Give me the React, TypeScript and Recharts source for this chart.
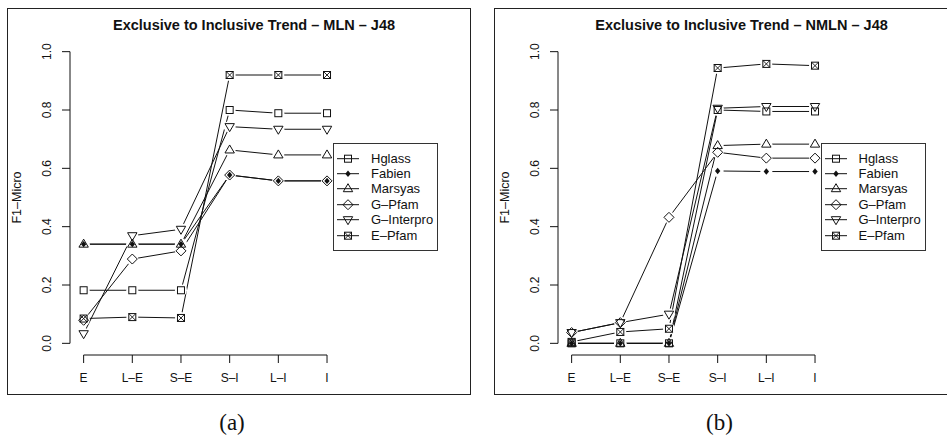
import { LineChart, Line, XAxis, YAxis, ReferenceLine, Legend } from 'recharts';

const categories = ['E', 'L–E', 'S–E', 'S–I', 'L–I', 'I'];
const seriesNames = ['Hglass', 'Fabien', 'Marsyas', 'G–Pfam', 'G–Interpro', 'E–Pfam'];
const yTicks = [0, 0.2, 0.4, 0.6, 0.8, 1.0];
const xTicks = [0, 1, 2, 3, 4, 5];

// MLN panel (a)
const mlnHglass = [0.182, 0.182, 0.182, 0.8, 0.789, 0.789];
const mlnFabien = [0.34, 0.34, 0.34, 0.577, 0.557, 0.557];
const mlnMarsyas = [0.34, 0.34, 0.34, 0.663, 0.646, 0.646];
const mlnGPfam = [0.079, 0.289, 0.317, 0.577, 0.557, 0.557];
const mlnGInterpro = [0.033, 0.369, 0.391, 0.743, 0.734, 0.734];
const mlnEPfam = [0.085, 0.09, 0.087, 0.92, 0.92, 0.92];

// NMLN panel (b)
const nmlnHglass = [0, 0, 0, 0.8, 0.795, 0.795];
const nmlnFabien = [0, 0, 0, 0.591, 0.589, 0.589];
const nmlnMarsyas = [0, 0, 0, 0.678, 0.683, 0.683];
const nmlnGPfam = [0.037, 0.071, 0.432, 0.655, 0.635, 0.635];
const nmlnGInterpro = [0.037, 0.071, 0.1, 0.806, 0.812, 0.812];
const nmlnEPfam = [0.005, 0.039, 0.05, 0.944, 0.958, 0.952];

type Shape = 'square' | 'dot' | 'triUp' | 'diamond' | 'triDown' | 'boxX';
const shapes: Shape[] = ['square', 'dot', 'triUp', 'diamond', 'triDown', 'boxX'];

const FONT = '"Liberation Sans", Arial, Helvetica, sans-serif';
const INK = '#111';

function buildRows(series: number[][]) {
    return categories.map((cat, i) => {
        const row: Record<string, number | string> = { x: i, cat };
        series.forEach((s, k) => {
            row[`s${k}`] = s[i];
        });
        return row;
    });
}

function Marker({ shape, cx, cy }: { shape: Shape; cx: number; cy: number }) {
    const open = { stroke: INK, strokeWidth: 1, fill: 'none' };
    switch (shape) {
        case 'square':
            return <rect x={cx - 3.5} y={cy - 3.5} width={7} height={7} {...open} />;
        case 'dot':
            return (
                <polygon
                    points={`${cx},${cy - 3.2} ${cx + 2.7},${cy} ${cx},${cy + 3.2} ${cx - 2.7},${cy}`}
                    fill={INK}
                />
            );
        case 'triUp':
            return <polygon points={`${cx},${cy - 5} ${cx + 4.7},${cy + 3} ${cx - 4.7},${cy + 3}`} {...open} />;
        case 'diamond':
            return (
                <polygon
                    points={`${cx},${cy - 5} ${cx + 5},${cy} ${cx},${cy + 5} ${cx - 5},${cy}`}
                    {...open}
                />
            );
        case 'triDown':
            return <polygon points={`${cx - 4.7},${cy - 3} ${cx + 4.7},${cy - 3} ${cx},${cy + 5}`} {...open} />;
        case 'boxX':
            return (
                <g>
                    <rect x={cx - 3.5} y={cy - 3.5} width={7} height={7} {...open} />
                    <path
                        d={`M${cx - 3.5},${cy - 3.5}L${cx + 3.5},${cy + 3.5}M${cx + 3.5},${cy - 3.5}L${cx - 3.5},${cy + 3.5}`}
                        stroke={INK}
                        strokeWidth={0.9}
                    />
                </g>
            );
    }
    return null;
}

function XTick({ x, y, payload }: any) {
    return (
        <text x={x} y={y + 17} textAnchor="middle" fontSize={12} fill={INK} fontFamily={FONT}>
            {categories[payload.value]}
        </text>
    );
}

function YTick({ x, y, payload }: any) {
    const cx = x - 13;
    return (
        <text
            x={cx}
            y={y}
            dy="0.35em"
            transform={`rotate(-90 ${cx} ${y})`}
            textAnchor="middle"
            fontSize={12}
            fill={INK}
            fontFamily={FONT}
        >
            {Number(payload.value).toFixed(1)}
        </text>
    );
}

function YTitle({ viewBox }: any) {
    const cx = viewBox.x + viewBox.width - 53;
    const cy = viewBox.y + viewBox.height / 2;
    return (
        <text
            x={cx}
            y={cy}
            dy="0.35em"
            transform={`rotate(-90 ${cx} ${cy})`}
            textAnchor="middle"
            fontSize={12.5}
            fill={INK}
            fontFamily={FONT}
        >
            F1–Micro
        </text>
    );
}

function LegendBox() {
    return (
        <div
            style={{
                position: 'relative',
                width: 105,
                height: 108,
                boxSizing: 'border-box',
                border: '1px solid #333',
                background: '#fff',
                fontFamily: FONT,
                fontSize: 13,
                color: INK,
            }}
        >
            {seriesNames.map((name, i) => (
                <div
                    key={name}
                    style={{
                        position: 'absolute',
                        left: 0,
                        top: 6.6 + i * 15.4,
                        height: 15.4,
                        display: 'flex',
                        alignItems: 'center',
                        whiteSpace: 'nowrap',
                    }}
                >
                    <svg width={37} height={15.4} style={{ display: 'block' }}>
                        <line x1={3} x2={25} y1={7.7} y2={7.7} stroke={INK} strokeWidth={1} />
                        <Marker shape={shapes[i]} cx={14} cy={7.7} />
                    </svg>
                    <span style={{ lineHeight: '15.4px' }}>{name}</span>
                </div>
            ))}
        </div>
    );
}

function Panel({ left, title, tag, series }: { left: number; title: string; tag: string; series: number[][] }) {
    const data = buildRows(series);
    return (
        <div style={{ position: 'absolute', left, top: 0, width: 480, height: 437 }}>
            <div
                style={{
                    position: 'absolute',
                    left: 6.5,
                    top: 7.5,
                    width: 464.5,
                    height: 387.5,
                    boxSizing: 'border-box',
                    border: '1.6px solid #222',
                }}
            />
            <div
                style={{
                    position: 'absolute',
                    left: 70,
                    top: 16.7,
                    width: 368,
                    textAlign: 'center',
                    fontFamily: FONT,
                    fontWeight: 'bold',
                    fontSize: 14.5,
                    lineHeight: '17px',
                    color: INK,
                    whiteSpace: 'nowrap',
                }}
            >
                {title}
            </div>
            <div style={{ position: 'absolute', left: 0, top: 0 }}>
                <LineChart
                    width={480}
                    height={400}
                    data={data}
                    margin={{ top: 40, right: 42, bottom: 15, left: 50 }}
                >
                    <XAxis
                        dataKey="x"
                        type="number"
                        domain={[-0.28, 7.28]}
                        ticks={xTicks}
                        allowDataOverflow
                        height={30}
                        axisLine={false}
                        tickSize={8}
                        tickLine={{ stroke: INK, strokeWidth: 1 }}
                        tick={<XTick />}
                        interval={0}
                    />
                    <YAxis
                        type="number"
                        domain={[-0.04, 1.04]}
                        ticks={yTicks}
                        allowDataOverflow
                        width={20}
                        axisLine={false}
                        tickSize={8}
                        tickLine={{ stroke: INK, strokeWidth: 1 }}
                        tick={<YTick />}
                        interval={0}
                        label={<YTitle />}
                    />
                    <ReferenceLine
                        segment={[{ x: 0, y: -0.04 }, { x: 5, y: -0.04 }]}
                        stroke={INK}
                        strokeWidth={1}
                        ifOverflow="visible"
                    />
                    <ReferenceLine
                        segment={[{ x: -0.28, y: 0 }, { x: -0.28, y: 1 }]}
                        stroke={INK}
                        strokeWidth={1}
                        ifOverflow="visible"
                    />
                    {seriesNames.map((name, k) => (
                        <Line
                            key={`line-${k}`}
                            dataKey={`s${k}`}
                            name={name}
                            stroke={INK}
                            strokeWidth={1}
                            dot={false}
                            activeDot={false}
                            isAnimationActive={false}
                            legendType="none"
                        />
                    ))}
                    {seriesNames.map((name, k) => (
                        <Line
                            key={`halo-${k}`}
                            dataKey={`s${k}`}
                            stroke="none"
                            activeDot={false}
                            isAnimationActive={false}
                            legendType="none"
                            dot={(p: any) => (
                                <circle key={`h-${k}-${p.index}`} cx={p.cx} cy={p.cy} r={6} fill="#fff" />
                            )}
                        />
                    ))}
                    {seriesNames.map((name, k) => (
                        <Line
                            key={`mark-${k}`}
                            dataKey={`s${k}`}
                            stroke="none"
                            activeDot={false}
                            isAnimationActive={false}
                            legendType="none"
                            dot={(p: any) => (
                                <Marker key={`m-${k}-${p.index}`} shape={shapes[k]} cx={p.cx} cy={p.cy} />
                            )}
                        />
                    ))}
                    <Legend
                        layout="vertical"
                        align="center"
                        verticalAlign="middle"
                        wrapperStyle={{ left: 333, top: 143, width: 105, height: 108 }}
                        content={() => <LegendBox />}
                    />
                </LineChart>
            </div>
            <div
                style={{
                    position: 'absolute',
                    left: 132,
                    top: 409.6,
                    width: 200,
                    textAlign: 'center',
                    fontFamily: '"Liberation Serif", "Times New Roman", serif',
                    fontSize: 23,
                    lineHeight: '26px',
                    color: INK,
                }}
            >
                {tag}
            </div>
        </div>
    );
}

export default function App() {
    return (
        <div
            style={{
                position: 'absolute',
                left: 0,
                top: 0,
                width: 947,
                height: 437,
                overflow: 'hidden',
                background: '#fff',
            }}
        >
            <Panel
                left={0}
                title="Exclusive to Inclusive Trend – MLN – J48"
                tag="(a)"
                series={[mlnHglass, mlnFabien, mlnMarsyas, mlnGPfam, mlnGInterpro, mlnEPfam]}
            />
            <Panel
                left={487.5}
                title="Exclusive to Inclusive Trend – NMLN – J48"
                tag="(b)"
                series={[nmlnHglass, nmlnFabien, nmlnMarsyas, nmlnGPfam, nmlnGInterpro, nmlnEPfam]}
            />
        </div>
    );
}
